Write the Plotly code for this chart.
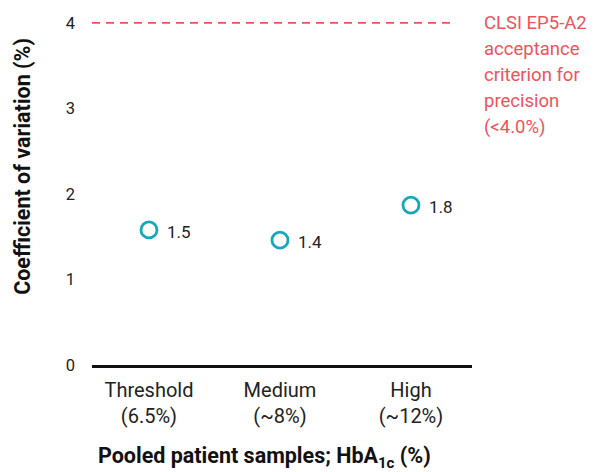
import plotly.graph_objects as go

categories = ["Threshold<br>(6.5%)", "Medium<br>(~8%)", "High<br>(~12%)"]
cv_values = [1.58, 1.46, 1.87]
cv_labels = ["1.5", "1.4", "1.8"]
criterion = 4.0
criterion_lines = ["CLSI EP5-A2", "acceptance", "criterion for", "precision", "(&lt;4.0%)"]
y_ticks = [0, 1, 2, 3, 4]

RED = "#f0525c"
TEAL = "#16a8b8"
FONT = "Roboto, Arial, sans-serif"

x_idx = list(range(len(categories)))
x_min, x_max = -0.435, 2.466
line_end = 2.344
y_max = 4.175

fig = go.Figure()
fig.add_trace(go.Scatter(
    x=[x_min, line_end], y=[criterion, criterion], mode="lines",
    line=dict(color=RED, width=1.8, dash="8px,6px"),
    showlegend=False, hoverinfo="skip",
))
fig.add_trace(go.Scatter(
    x=x_idx, y=cv_values, mode="markers",
    marker=dict(symbol="circle-open", size=16, color=TEAL, line=dict(width=2.8, color=TEAL)),
    cliponaxis=False, showlegend=False, hoverinfo="skip",
))

for xi, yv, lab in zip(x_idx, cv_values, cv_labels):
    fig.add_annotation(x=xi, y=yv, text=lab, showarrow=False, xanchor="left", yanchor="middle",
                       xshift=16, yshift=-2, font=dict(size=17, color="#222222", family=FONT))

for i, line in enumerate(criterion_lines):
    fig.add_annotation(
        xref="paper", yref="y", x=1.0, y=criterion, xanchor="left", yanchor="middle",
        xshift=10, yshift=-26 * i, showarrow=False, text=line,
        font=dict(size=18.5, color=RED, family=FONT),
    )

fig.add_annotation(
    xref="paper", yref="paper", x=0.455, y=-0.2605, xanchor="center", yanchor="middle",
    showarrow=False,
    text="<b>Pooled patient samples; HbA<sub>1c</sub> (%)</b>",
    font=dict(size=21.5, color="#111111", family=FONT),
)

fig.add_annotation(
    xref="paper", yref="paper", x=-0.185, y=0.557, xanchor="center", yanchor="middle",
    showarrow=False, textangle=-90,
    text="<b>Coefficient of variation (%)</b>",
    font=dict(size=21.5, color="#111111", family=FONT),
)

fig.update_layout(
    width=589, height=464,
    margin=dict(l=84, r=125, t=0, b=107),
    plot_bgcolor="white", paper_bgcolor="white",
    font=dict(family=FONT, size=17, color="#222222"),
    xaxis=dict(
        range=[x_min, x_max], tickmode="array", tickvals=x_idx, ticktext=categories,
        showgrid=False, zeroline=False, showline=True, linecolor="#111111", linewidth=2.5,
        ticks="", ticklabelstandoff=5, tickfont=dict(size=20, color="#222222"),
        automargin=False,
    ),
    yaxis=dict(
        range=[0, y_max], tickmode="array", tickvals=y_ticks, ticktext=[str(v) for v in y_ticks],
        showgrid=False, zeroline=False, showline=False, ticks="",
        ticklabelstandoff=16, tickfont=dict(size=16.5, color="#222222"),
        automargin=False,
    ),
)

fig.write_html("out.html")
